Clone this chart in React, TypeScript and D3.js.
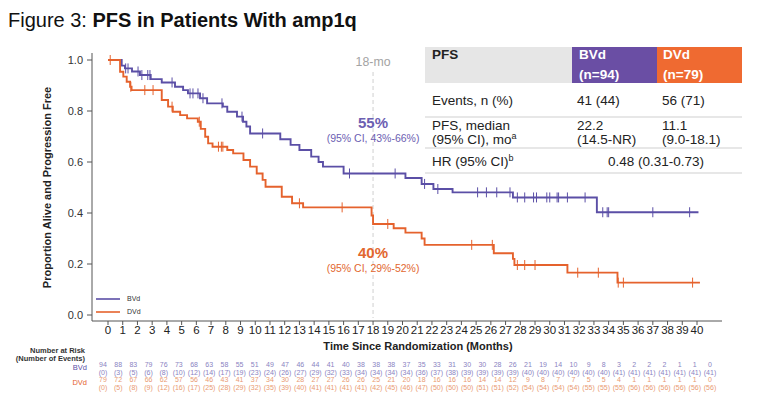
import React from "react";
import * as d3 from "d3";

const FONT = "'Liberation Sans', Arial, Helvetica, sans-serif";

const monthTicks = d3.range(0, 41);
const yTicks = [0, 0.2, 0.4, 0.6, 0.8, 1.0];

const bvdTimes = [0, 0.93, 1.15, 1.63, 2.17, 2.9, 3.65, 4.55, 5.1, 5.43, 6.25, 6.73, 7.8, 8.1, 8.76, 9.17, 9.4, 9.65, 11.7, 12.4, 13.0, 13.8, 14.3, 14.6, 16.0, 20.2, 21.3, 22.1, 23.4, 27.5, 33.2];
const bvdSurv = [1, 0.978, 0.967, 0.955, 0.941, 0.925, 0.912, 0.895, 0.882, 0.869, 0.85, 0.83, 0.817, 0.797, 0.778, 0.758, 0.739, 0.712, 0.689, 0.667, 0.647, 0.621, 0.6, 0.582, 0.555, 0.537, 0.514, 0.494, 0.481, 0.461, 0.403];
const bvdEnd = 40.1;
const bvdCensor = [1.2, 1.36, 2.04, 2.3, 2.7, 2.85, 4.35, 5.57, 5.77, 6.11, 6.45, 7.74, 9.1, 10.5, 16.4, 19.5, 21.5, 22.4, 25.1, 25.7, 26.4, 27.3, 27.8, 28.3, 28.9, 29.1, 29.8, 30.0, 30.5, 30.6, 31.2, 32.4, 33.6, 33.9, 34.0, 37.0, 39.5];

const dvdTimes = [0, 0.82, 1.04, 1.27, 1.5, 1.6, 3.65, 4.08, 4.4, 4.9, 5.37, 6.1, 6.3, 6.6, 6.8, 7.1, 8.1, 8.5, 9.2, 9.65, 10.1, 10.5, 10.7, 11.8, 12.5, 13.25, 17.9, 18.0, 19.4, 20.2, 21.3, 21.5, 26.2, 27.5, 27.6, 31.2, 34.6];
const dvdSurv = [1, 0.954, 0.935, 0.915, 0.895, 0.882, 0.843, 0.817, 0.797, 0.784, 0.771, 0.758, 0.73, 0.699, 0.673, 0.66, 0.647, 0.634, 0.608, 0.582, 0.555, 0.53, 0.503, 0.464, 0.438, 0.422, 0.39, 0.357, 0.34, 0.323, 0.3, 0.275, 0.242, 0.22, 0.196, 0.166, 0.127];
const dvdEnd = 40.2;
const dvdCensor = [0.15, 1.55, 2.5, 3.06, 4.35, 6.2, 7.5, 7.7, 7.8, 13.0, 15.9, 19.0, 24.7, 26.1, 27.8, 28.3, 29.0, 31.9, 33.3, 34.65, 35.0, 39.7];

const bvdAtRisk = [94, 88, 83, 79, 76, 73, 68, 63, 58, 55, 51, 49, 47, 46, 44, 41, 40, 38, 38, 38, 37, 35, 33, 31, 30, 30, 28, 26, 21, 19, 14, 10, 9, 8, 3, 2, 2, 2, 1, 1, 0];
const bvdEvents = [0, 3, 5, 6, 8, 10, 12, 14, 17, 19, 23, 24, 26, 27, 29, 32, 33, 34, 34, 34, 34, 36, 37, 38, 39, 39, 39, 39, 40, 40, 40, 40, 40, 40, 41, 41, 41, 41, 41, 41, 41];
const dvdAtRisk = [79, 72, 67, 66, 62, 57, 56, 46, 43, 41, 37, 34, 30, 28, 27, 27, 26, 26, 25, 21, 20, 18, 16, 16, 16, 14, 14, 12, 9, 8, 7, 7, 5, 5, 4, 1, 1, 1, 1, 1, 0];
const dvdEvents = [0, 5, 8, 9, 12, 16, 17, 25, 28, 29, 32, 35, 39, 40, 41, 41, 41, 41, 42, 45, 46, 47, 50, 50, 50, 51, 51, 52, 54, 54, 54, 54, 55, 55, 55, 56, 56, 56, 56, 56, 56];

const BLUE = "#5b4fa6";
const ORANGE = "#e5622d";

const x = d3.scaleLinear().domain([0, 40]).range([108, 697]);
const y = d3.scaleLinear().domain([0, 1]).range([315, 60]);
const xr = d3.scaleLinear().domain([0, 40]).range([103, 710]);

function stepPath(times: number[], surv: number[], end: number) {
  const pts: [number, number][] = times.map((t, i) => [t, surv[i]]);
  pts.push([end, surv[surv.length - 1]]);
  return d3
    .line<[number, number]>()
    .x((d) => x(d[0]))
    .y((d) => y(d[1]))
    .curve(d3.curveStepAfter)(pts) as string;
}

function survAt(times: number[], surv: number[], t: number) {
  const i = d3.bisectRight(times, t) - 1;
  return surv[Math.max(0, i)];
}

export default function App() {
  const curves = [
    { times: bvdTimes, surv: bvdSurv, end: bvdEnd, censor: bvdCensor, color: BLUE },
    { times: dvdTimes, surv: dvdSurv, end: dvdEnd, censor: dvdCensor, color: ORANGE },
  ];
  return (
    <svg
      width={770}
      height={400}
      style={{ position: "absolute", left: 0, top: 0, background: "#fff" }}
      fontFamily={FONT}
    >
      <rect width={770} height={400} fill="#fff" />
      {/* Title */}
      <text x={8} y={27} fontSize={20} fill="#111">
        Figure 3: <tspan fontWeight="bold">PFS in Patients With amp1q</tspan>
      </text>

      {/* 18-mo reference */}
      <line x1={x(18)} x2={x(18)} y1={72} y2={318} stroke="#cfcfcf" strokeDasharray="4,3" strokeWidth={1} />
      <text x={x(18)} y={66} textAnchor="middle" fontSize={12.3} fill="#a3a3a3">18-mo</text>

      {/* Table */}
      <rect x={425} y={47} width={147} height={36} fill="#e6e6e6" />
      <rect x={572} y={47} width={85} height={36} fill="#6a4ea4" />
      <rect x={657} y={47} width={85} height={36} fill="#ef6a31" />
      {[117, 148, 173].map((ly) => (
        <line key={ly} x1={425} x2={742} y1={ly} y2={ly} stroke="#cfcfcf" strokeWidth={1} />
      ))}
      <g fontSize={13.5} fill="#222">
        <text x={432} y={59} fontWeight="bold">PFS</text>
        <text x={579} y={59} fontWeight="bold" fill="#fff">BVd</text>
        <text x={579} y={79} fontWeight="bold" fill="#fff">(n=94)</text>
        <text x={663} y={59} fontWeight="bold" fill="#fff">DVd</text>
        <text x={663} y={79} fontWeight="bold" fill="#fff">(n=79)</text>
        <text x={432} y={105}>Events, n (%)</text>
        <text x={577} y={105}>41 (44)</text>
        <text x={662} y={105}>56 (71)</text>
        <text x={432} y={130}>PFS, median</text>
        <text x={432} y={144}>
          (95% CI), mo<tspan fontSize={9} dy={-5}>a</tspan>
        </text>
        <text x={577} y={130}>22.2</text>
        <text x={577} y={144}>(14.5-NR)</text>
        <text x={662} y={130}>11.1</text>
        <text x={662} y={144}>(9.0-18.1)</text>
        <text x={432} y={166}>
          HR (95% CI)<tspan fontSize={9} dy={-5}>b</tspan>
        </text>
        <text x={656} y={166} textAnchor="middle">0.48 (0.31-0.73)</text>
      </g>

      {/* Axes */}
      <line x1={92} x2={92} y1={53} y2={321} stroke="#555" strokeWidth={1} />
      <line x1={92} x2={722} y1={321} y2={321} stroke="#555" strokeWidth={1} />
      {yTicks.map((v) => (
        <g key={v}>
          <line x1={87} x2={92} y1={y(v)} y2={y(v)} stroke="#555" />
          <text x={83} y={y(v)} dy="0.35em" textAnchor="end" fontSize={11} fill="#333">
            {v.toFixed(1)}
          </text>
        </g>
      ))}
      {monthTicks.map((m) => (
        <g key={m}>
          <line x1={x(m)} x2={x(m)} y1={321} y2={325} stroke="#555" />
          <text x={x(m)} y={334} textAnchor="middle" fontSize={11.5} fill="#222">
            {m}
          </text>
        </g>
      ))}
      <text
        transform={`translate(51,${(y(0) + y(1)) / 2}) rotate(-90)`}
        textAnchor="middle"
        fontSize={11}
        fontWeight="bold"
        fill="#222"
      >
        Proportion Alive and Progression Free
      </text>
      <text x={418} y={350} textAnchor="middle" fontSize={11} fontWeight="bold" fill="#222">
        Time Since Randomization (Months)
      </text>

      {/* Curves */}
      {curves.map((c, ci) => (
        <g key={ci}>
          <path d={stepPath(c.times, c.surv, c.end)} fill="none" stroke={c.color} strokeWidth={1.9} />
          {c.censor.map((t, i) => {
            const cy = y(survAt(c.times, c.surv, t));
            return (
              <line key={i} x1={x(t)} x2={x(t)} y1={cy - 5} y2={cy + 5} stroke={c.color} strokeWidth={1} />
            );
          })}
        </g>
      ))}

      {/* Annotations */}
      <text x={x(18)} y={128} textAnchor="middle" fontSize={15} fontWeight="bold" fill="#6c60b2">55%</text>
      <text x={x(18)} y={142} textAnchor="middle" fontSize={10.5} fill="#6c60b2">(95% CI, 43%-66%)</text>
      <text x={x(18)} y={258} textAnchor="middle" fontSize={15} fontWeight="bold" fill="#e2672f">40%</text>
      <text x={x(18)} y={272} textAnchor="middle" fontSize={10.5} fill="#e2672f">(95% CI, 29%-52%)</text>

      {/* Legend */}
      <line x1={96} x2={120} y1={299} y2={299} stroke={BLUE} strokeWidth={1.6} />
      <text x={127} y={299} dy="0.35em" fontSize={7} fill="#333">BVd</text>
      <line x1={96} x2={120} y1={312} y2={312} stroke={ORANGE} strokeWidth={1.6} />
      <text x={127} y={312} dy="0.35em" fontSize={7} fill="#333">DVd</text>

      {/* Number at risk */}
      <text x={85} y={353} textAnchor="end" fontSize={7.5} fontWeight="bold" fill="#333">Number at Risk</text>
      <text x={85} y={361} textAnchor="end" fontSize={7.5} fontWeight="bold" fill="#333">(Number of Events)</text>
      <text x={87} y={370} textAnchor="end" fontSize={7.5} fill={BLUE}>BVd</text>
      <text x={87} y={385} textAnchor="end" fontSize={7.5} fill={ORANGE}>DVd</text>
      <g fontSize={7} textAnchor="middle">
        {bvdAtRisk.map((v, i) => (
          <text key={"ba" + i} x={xr(i)} y={367} fill="#8a83c2">{v}</text>
        ))}
        {bvdEvents.map((v, i) => (
          <text key={"be" + i} x={xr(i)} y={374.5} fill="#8a83c2">({v})</text>
        ))}
        {dvdAtRisk.map((v, i) => (
          <text key={"da" + i} x={xr(i)} y={382} fill="#e99a72">{v}</text>
        ))}
        {dvdEvents.map((v, i) => (
          <text key={"de" + i} x={xr(i)} y={389.5} fill="#e99a72">({v})</text>
        ))}
      </g>
    </svg>
  );
}
